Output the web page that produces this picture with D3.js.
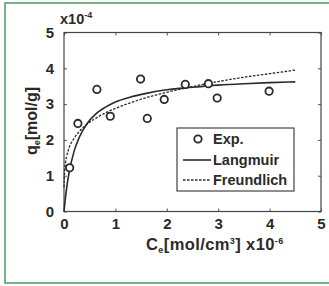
<!DOCTYPE html>
<html>
<head>
<meta charset="utf-8">
<script src="https://cdn.jsdelivr.net/npm/d3@7"></script>
<style>
  body { margin: 0; background: #fff; }
  svg text { font-family: "Liberation Sans", Arial, sans-serif; font-weight: bold; fill: #2a2a2a; }
</style>
</head>
<body>
<div id="chart"></div>
<script>
//--------------------------------------------------
// data
//--------------------------------------------------
const expC = [0.11, 0.27, 0.64, 0.90, 1.49, 1.62, 1.95, 2.36, 2.81, 2.98, 3.99];
const expQ = [1.22, 2.46, 3.41, 2.66, 3.70, 2.60, 3.13, 3.55, 3.57, 3.17, 3.36];

const langC = [0, 0.02, 0.05, 0.1, 0.2, 0.3, 0.45, 0.6, 0.8, 1.0, 1.3, 1.6, 2.0, 2.5, 3.0, 3.5, 4.0, 4.5];
const langQ = [0, 0.28, 0.64, 1.09, 1.70, 2.08, 2.46, 2.70, 2.91, 3.06, 3.20, 3.30, 3.40, 3.47, 3.53, 3.57, 3.60, 3.62];

const freC = [0.001, 0.01, 0.03, 0.05, 0.1, 0.2, 0.3, 0.45, 0.6, 0.8, 1.0, 1.3, 1.6, 2.0, 2.5, 3.0, 3.5, 4.0, 4.5];
const freQ = [0.68, 1.09, 1.38, 1.53, 1.78, 2.05, 2.24, 2.44, 2.59, 2.75, 2.88, 3.04, 3.18, 3.33, 3.49, 3.63, 3.75, 3.85, 3.95];

const xTicks = [0, 1, 2, 3, 4, 5];
const yTicks = [0, 1, 2, 3, 4, 5];
const legendLabels = ["Exp.", "Langmuir", "Freundlich"];

//--------------------------------------------------
// drawing
//--------------------------------------------------
const W = 329, H = 286;
const ink = "#2a2a2a";

const svg = d3.select("#chart").append("svg")
    .attr("width", W).attr("height", H);

// green frame
svg.append("rect")
    .attr("x", 5).attr("y", 3).attr("width", 340).attr("height", 280)
    .attr("fill", "none").attr("stroke", "#4a9a5e").attr("stroke-width", 1.5);

const x = d3.scaleLinear().domain([0, 5]).range([64, 321]);
const y = d3.scaleLinear().domain([0, 5]).range([211.5, 32.5]);
const fmt = d3.format("d");

function styleAxis(g) {
    g.select(".domain").remove();
    g.selectAll("line").attr("stroke", "#555");
    g.selectAll("text").attr("font-size", 15).attr("fill", ink)
        .attr("font-family", "Liberation Sans, Arial, sans-serif").attr("font-weight", "bold");
}

svg.append("g").attr("transform", `translate(0,${y(0)})`)
    .call(d3.axisBottom(x).tickValues(xTicks).tickFormat(fmt).tickSizeInner(-3).tickSizeOuter(0).tickPadding(7))
    .call(styleAxis);
svg.append("g").attr("transform", `translate(0,${y(5)})`)
    .call(d3.axisTop(x).tickValues(xTicks).tickSizeInner(-3).tickSizeOuter(0).tickFormat(""))
    .call(styleAxis);
svg.append("g").attr("transform", `translate(${x(0)},0)`)
    .call(d3.axisLeft(y).tickValues(yTicks).tickFormat(fmt).tickSizeInner(-3).tickSizeOuter(0).tickPadding(10))
    .call(styleAxis);
svg.append("g").attr("transform", `translate(${x(5)},0)`)
    .call(d3.axisRight(y).tickValues(yTicks).tickSizeInner(-3).tickSizeOuter(0).tickFormat(""))
    .call(styleAxis);

// box
svg.append("rect")
    .attr("x", x(0)).attr("y", y(5))
    .attr("width", x(5) - x(0)).attr("height", y(0) - y(5))
    .attr("fill", "none").attr("stroke", "#444").attr("stroke-width", 1.2);

// curves
const line = d3.line().x(d => x(d[0])).y(d => y(d[1])).curve(d3.curveMonotoneX);

svg.append("path")
    .datum(langC.map((c, i) => [c, langQ[i]]))
    .attr("d", line).attr("fill", "none").attr("stroke", ink).attr("stroke-width", 1.6);

svg.append("path")
    .datum(freC.map((c, i) => [c, freQ[i]]))
    .attr("d", line).attr("fill", "none").attr("stroke", ink).attr("stroke-width", 1.3)
    .attr("stroke-dasharray", "2.5,1.5");

// experimental points
svg.append("g").selectAll("circle")
    .data(expC.map((c, i) => [c, expQ[i]]))
    .enter().append("circle")
    .attr("cx", d => x(d[0])).attr("cy", d => y(d[1])).attr("r", 3.7)
    .attr("fill", "#fff").attr("stroke", ink).attr("stroke-width", 1.8);

// exponent of y axis
const yExp = svg.append("text").attr("x", 60).attr("y", 24).attr("font-size", 14.5);
yExp.append("tspan").text("x10");
yExp.append("tspan").attr("dy", -6).attr("font-size", 9).text("-4");

// y label
const yLab = svg.append("text")
    .attr("transform", "translate(37,121) rotate(-90)")
    .attr("text-anchor", "middle").attr("font-size", 16);
yLab.append("tspan").text("q");
yLab.append("tspan").attr("dy", 3).attr("font-size", 9).text("e");
yLab.append("tspan").attr("dy", -3).text("[mol/g]");

// x label
const xLab = svg.append("text").attr("x", 146).attr("y", 250).attr("font-size", 16.5)
    .attr("letter-spacing", 0.4);
xLab.append("tspan").text("C");
xLab.append("tspan").attr("dy", 3).attr("font-size", 9).text("e");
xLab.append("tspan").attr("dy", -3).text("[mol/cm");
xLab.append("tspan").attr("dy", -6).attr("font-size", 9).text("3");
xLab.append("tspan").attr("dy", 6).text("]  x10");
xLab.append("tspan").attr("dy", -6).attr("font-size", 9).text("-6");

// legend
const lg = svg.append("g");
lg.append("rect").attr("x", 177).attr("y", 128).attr("width", 117).attr("height", 63)
    .attr("fill", "#fff").attr("stroke", "#444").attr("stroke-width", 1.2);
const rowY = [139, 160, 180];
legendLabels.forEach((t, i) => {
    lg.append("text").attr("x", 213).attr("y", rowY[i] + 5).attr("font-size", 14.5).text(t);
});
lg.append("circle").attr("cx", 198).attr("cy", rowY[0]).attr("r", 3.7)
    .attr("fill", "#fff").attr("stroke", ink).attr("stroke-width", 1.8);
lg.append("line").attr("x1", 183).attr("x2", 211).attr("y1", rowY[1]).attr("y2", rowY[1])
    .attr("stroke", ink).attr("stroke-width", 1.6);
lg.append("line").attr("x1", 183).attr("x2", 211).attr("y1", rowY[2]).attr("y2", rowY[2])
    .attr("stroke", ink).attr("stroke-width", 1.3).attr("stroke-dasharray", "2.5,1.5");
</script>
</body>
</html>
